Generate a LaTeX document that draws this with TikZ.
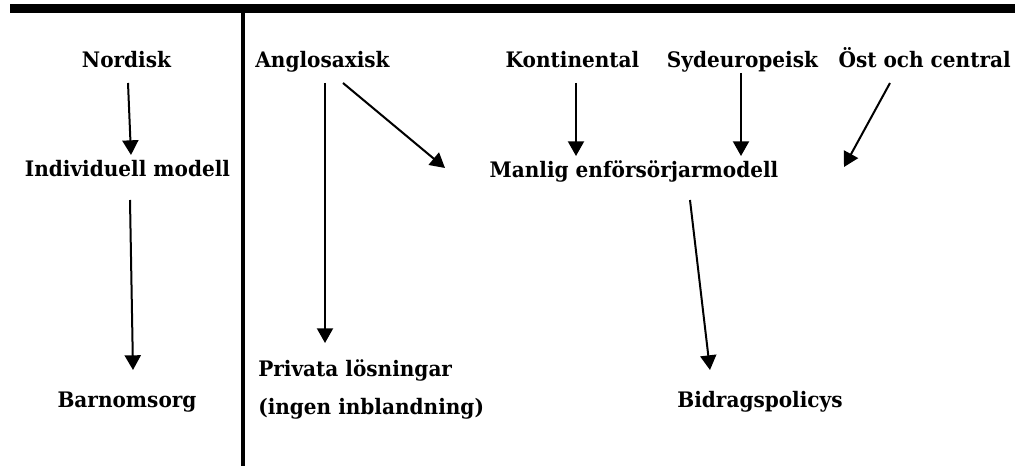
\documentclass[tikz,border=0pt]{standalone}
\usepackage{fontspec}
\setmainfont{DejaVu Serif}[FakeStretch=0.94]
\usetikzlibrary{arrows.meta}
\tikzset{
  lbl/.style={font=\fontsize{16pt}{19pt}\selectfont\bfseries, inner sep=0pt, anchor=base},
  arr/.style={line width=1.5pt, -{Triangle[length=11pt,width=12pt]}},
  rule/.style={fill=black, draw=none}
}
\begin{document}
\begin{tikzpicture}[x=0.75pt, y=-0.75pt]
\useasboundingbox (0,0) rectangle (1015,466);
% rules
\fill[rule] (10,4) rectangle (1015,12.7);
\fill[rule] (240.7,12) rectangle (244.7,466);
% labels
\node[lbl] (nord) at (126.5,68) {Nordisk};
\node[lbl] (ang) at (322.5,68) {Anglosaxisk};
\node[lbl] (kont) at (572.5,68) {Kontinental};
\node[lbl] (syd) at (742.5,68) {Sydeuropeisk};
\node[lbl, anchor=base east] (ost) at (1011,68) {Öst och central};
\node[lbl] (ind) at (127.5,177) {Individuell modell};
\node[lbl] (man) at (634,178) {Manlig enförsörjarmodell};
\node[lbl] (barn) at (127,408) {Barnomsorg};
\node[lbl, anchor=base west, align=left, font=\fontsize{16pt}{28.5pt}\selectfont\bfseries] (priv) at (258,415) {Privata lösningar\\(ingen inblandning)};
\node[lbl] (bid) at (760,408) {Bidragspolicys};
% arrow end points
\coordinate (nordS) at (128,83);
\coordinate (nordE) at (131,155);
\coordinate (indS) at (130,200);
\coordinate (indE) at (133,370);
\coordinate (angS) at (325,83);
\coordinate (angE) at (325,343);
\coordinate (angD) at (343,83);
\coordinate (angDE) at (445,168);
\coordinate (kontS) at (576,83);
\coordinate (kontE) at (576,156);
\coordinate (sydS) at (741,73);
\coordinate (sydE) at (741,156);
\coordinate (ostS) at (890,83);
\coordinate (ostE) at (844,167);
\coordinate (manS) at (690,200);
\coordinate (manE) at (710,370);
% arrows
\draw[arr] (nordS) -- (nordE);
\draw[arr] (indS) -- (indE);
\draw[arr] (angS) -- (angE);
\draw[arr] (angD) -- (angDE);
\draw[arr] (kontS) -- (kontE);
\draw[arr] (sydS) -- (sydE);
\draw[arr] (ostS) -- (ostE);
\draw[arr] (manS) -- (manE);
\end{tikzpicture}
\end{document}
